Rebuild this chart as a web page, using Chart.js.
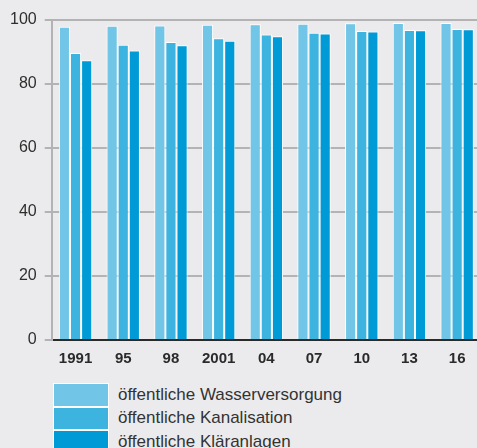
<!DOCTYPE html>
<html>
<head>
<meta charset="utf-8">
<script src="https://cdn.jsdelivr.net/npm/chart.js@4/dist/chart.umd.min.js"></script>
<style>
  html, body { margin: 0; padding: 0; background: #ebebed; overflow: hidden; }
  #wrap { position: relative; width: 481px; height: 448px; }
  #chartBox { position: absolute; left: 0; top: 0; width: 481px; height: 383px; }
  #legend { position: absolute; left: 54px; top: 383px; font-family: "Liberation Sans", Arial, sans-serif; font-size: 17px; color: #333; }
  .item { display: flex; align-items: center; height: 23.5px; }
  .swatch { width: 54px; height: 21.5px; border: 1px solid #fff; box-sizing: content-box; margin-right: 9px; margin-left: -1px; }
</style>
</head>
<body>
<div id="wrap">
  <div id="chartBox"><canvas id="c" width="481" height="383"></canvas></div>
  <div id="legend"></div>
</div>
<script>
// Anschlussgrad in Prozent
const years = ["1991", "95", "98", "2001", "04", "07", "10", "13", "16"];
const wasserversorgung = [97.9, 98.2, 98.3, 98.5, 98.7, 98.8, 99.0, 99.1, 99.1];
const kanalisation     = [89.7, 92.3, 93.1, 94.3, 95.5, 96.0, 96.6, 96.9, 97.2];
const klaeranlagen     = [87.4, 90.5, 92.1, 93.5, 94.9, 95.8, 96.4, 96.8, 97.1];
const seriesLabels = ["öffentliche Wasserversorgung", "öffentliche Kanalisation", "öffentliche Kläranlagen"];
const seriesColors = ["#71c6e7", "#3db3e0", "#009bd7"];
const yTicks = [0, 20, 40, 60, 80, 100];

const font = "'Liberation Sans', Arial, sans-serif";
const values = [wasserversorgung, kanalisation, klaeranlagen];

const datasets = values.map((v, i) => ({
  label: seriesLabels[i],
  data: v,
  backgroundColor: seriesColors[i],
  borderColor: "#ffffff",
  borderWidth: { top: 1, left: 1, right: 1, bottom: 0 },
  borderSkipped: "bottom",
  categoryPercentage: 0.7,
  barPercentage: 1.0
}));

const chart = new Chart(document.getElementById("c"), {
  type: "bar",
  data: { labels: years, datasets },
  options: {
    responsive: false,
    animation: false,
    layout: { padding: { top: 20, left: 2, right: 0, bottom: 5 } },
    plugins: { legend: { display: false }, tooltip: { enabled: false } },
    scales: {
      x: {
        grid: { display: false, drawTicks: false },
        border: { display: true, color: "#2a2a2a", width: 2 },
        ticks: { font: { family: font, size: 15, weight: "bold" }, color: "#2a2a2a", padding: 10 }
      },
      y: {
        min: 0,
        max: 100,
        afterBuildTicks: (axis) => { axis.ticks = yTicks.map(v => ({ value: v })); },
        grid: {
          color: (ctx) => ctx.tick && ctx.tick.value === 0 ? "#2a2a2a" : "#b3b3b3",
          tickColor: "#b3b3b3",
          lineWidth: 2,
          tickLength: 7
        },
        border: { color: "#b3b3b3", width: 2 },
        ticks: { font: { family: font, size: 16 }, color: "#2e2e2e", padding: 8 }
      }
    }
  }
});

// Legende aus den Datensätzen aufbauen
const legend = document.getElementById("legend");
chart.data.datasets.forEach(ds => {
  const row = document.createElement("div");
  row.className = "item";
  const sw = document.createElement("span");
  sw.className = "swatch";
  sw.style.background = ds.backgroundColor;
  const tx = document.createElement("span");
  tx.textContent = ds.label;
  row.appendChild(sw);
  row.appendChild(tx);
  legend.appendChild(row);
});
</script>
</body>
</html>
